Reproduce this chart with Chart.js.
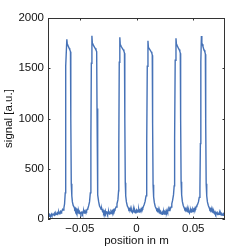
<!DOCTYPE html>
<html lang="en">
<head>
    <meta charset="UTF-8">
    <title>Signal vs position</title>
    <script src="https://cdn.jsdelivr.net/npm/chart.js"></script>
    <style>
        html, body {
            margin: 0;
            padding: 0;
            background: #ffffff;
        }
        #wrap {
            width: 249px;
            height: 249px;
        }
    </style>
</head>
<body>
    <div id="wrap"><canvas id="signalChart" width="249" height="249"></canvas></div>

    <script>
        // position in m
        let positions = [
            -0.0780, -0.0775, -0.0770, -0.0765, -0.0760, -0.0755, -0.0750, -0.0745, -0.0740, -0.0735,
            -0.0730, -0.0725, -0.0720, -0.0715, -0.0710, -0.0705, -0.0700, -0.0695, -0.0690, -0.0685,
            -0.0680, -0.0675, -0.0670, -0.0665, -0.0660, -0.0655, -0.0650, -0.0645, -0.0640, -0.0634, -0.0628,
            // pulse 1
            -0.0626, -0.0622, -0.0614, -0.0610, -0.0606, -0.0600, -0.0594, -0.0588, -0.0582, -0.0579, -0.0575,
            -0.0570, -0.0565, -0.0558, -0.0550, -0.0545, -0.0540, -0.0535, -0.0530, -0.0525, -0.0520,
            -0.0515, -0.0510, -0.0505, -0.0500, -0.0495, -0.0490, -0.0485, -0.0480, -0.0475, -0.0470,
            -0.0465, -0.0460, -0.0455, -0.0450, -0.0445, -0.0440, -0.0435, -0.0430, -0.0422, -0.0414, -0.0407,
            // pulse 2
            -0.0402, -0.0398, -0.0393, -0.0389, -0.0385, -0.0379, -0.0372, -0.0364, -0.0357, -0.0351, -0.0348, -0.0344,
            -0.0340, -0.0334, -0.0326, -0.0318, -0.0312, -0.0306, -0.0300, -0.0295, -0.0290, -0.0285,
            -0.0280, -0.0275, -0.0270, -0.0265, -0.0260, -0.0255, -0.0250, -0.0245, -0.0240, -0.0235,
            -0.0230, -0.0225, -0.0220, -0.0215, -0.0210, -0.0205, -0.0200, -0.0195, -0.0190, -0.0185,
            -0.0180, -0.0172, -0.0164, -0.0158,
            // pulse 3
            -0.0156, -0.0152, -0.0147, -0.0143, -0.0139, -0.0133, -0.0126, -0.0118, -0.0111, -0.0106, -0.0103, -0.0099,
            -0.0095, -0.0089, -0.0081, -0.0074, -0.0068, -0.0062, -0.0056, -0.0050, -0.0045, -0.0040,
            -0.0035, -0.0030, -0.0025, -0.0020, -0.0015, -0.0010, -0.0005, 0.0000, 0.0005, 0.0010,
            0.0015, 0.0020, 0.0025, 0.0030, 0.0035, 0.0040, 0.0045, 0.0050, 0.0055, 0.0060,
            0.0068, 0.0076, 0.0084, 0.0089,
            // pulse 4
            0.0091, 0.0095, 0.0101, 0.0105, 0.0109, 0.0115, 0.0122, 0.0129, 0.0135, 0.0139, 0.0142, 0.0146,
            0.0151, 0.0157, 0.0165, 0.0172, 0.0178, 0.0184, 0.0190, 0.0195, 0.0200, 0.0205,
            0.0210, 0.0215, 0.0220, 0.0225, 0.0230, 0.0235, 0.0240, 0.0245, 0.0250, 0.0255,
            0.0260, 0.0265, 0.0270, 0.0275, 0.0280, 0.0285, 0.0290, 0.0295, 0.0300, 0.0305,
            0.0311, 0.0318, 0.0326, 0.0332,
            // pulse 5
            0.0336, 0.0341, 0.0348, 0.0352, 0.0356, 0.0362, 0.0369, 0.0376, 0.0382, 0.0386, 0.0389, 0.0393,
            0.0398, 0.0404, 0.0412, 0.0419, 0.0425, 0.0431, 0.0437, 0.0442, 0.0447, 0.0452,
            0.0457, 0.0462, 0.0467, 0.0472, 0.0477, 0.0482, 0.0487, 0.0492, 0.0497, 0.0502,
            0.0507, 0.0512, 0.0517, 0.0522, 0.0527, 0.0532, 0.0538, 0.0546, 0.0553, 0.0559,
            // pulse 6
            0.0563, 0.0567, 0.0572, 0.0576, 0.0580, 0.0586, 0.0592, 0.0598, 0.0603, 0.0607, 0.0610, 0.0614,
            0.0619, 0.0625, 0.0633, 0.0640, 0.0646, 0.0652, 0.0658, 0.0663, 0.0668, 0.0673,
            0.0678, 0.0683, 0.0688, 0.0693, 0.0698, 0.0703, 0.0708, 0.0713, 0.0718, 0.0723,
            0.0728, 0.0733, 0.0738, 0.0743, 0.0748, 0.0753, 0.0758, 0.0763, 0.0768, 0.0774, 0.0780
        ];

        // signal [a.u.]
        let signal = [
            30, 38, 26, 42, 35, 30, 48, 36, 40, 52,
            44, 38, 55, 47, 60, 50, 44, 62, 56, 70,
            52, 64, 75, 60, 72, 88, 95, 90, 110, 150, 260,
            // pulse 1
            700, 1520, 1788, 1738, 1730, 1715, 1700, 1685, 1665, 1000, 350,
            230, 170, 135, 118, 100, 108, 82, 95, 70, 86,
            62, 78, 55, 70, 60, 48, 66, 72, 52, 64,
            80, 58, 74, 66, 85, 78, 96, 100, 130, 170, 260,
            // pulse 2
            800, 1550, 1824, 1748, 1740, 1728, 1712, 1698, 1682, 1665, 1100, 380,
            240, 175, 130, 112, 96, 104, 78, 88, 62, 74,
            58, 80, 52, 66, 70, 48, 60, 72, 50, 63,
            56, 74, 62, 80, 68, 88, 76, 96, 92, 108,
            120, 150, 190, 280,
            // pulse 3
            700, 1560, 1808, 1734, 1728, 1714, 1700, 1686, 1670, 1650, 1000, 360,
            230, 170, 130, 115, 96, 102, 84, 92, 72, 88,
            66, 80, 95, 70, 84, 62, 78, 90, 68, 82,
            75, 96, 70, 88, 82, 100, 92, 110, 104, 122,
            145, 175, 230, 320,
            // pulse 4
            750, 1520, 1774, 1706, 1700, 1690, 1678, 1664, 1650, 1630, 950, 340,
            220, 165, 125, 108, 92, 98, 75, 84, 62, 76,
            54, 70, 60, 48, 66, 56, 72, 50, 68, 58,
            80, 66, 90, 72, 86, 98, 84, 110, 104, 120,
            150, 185, 240, 330,
            // pulse 5
            800, 1580, 1798, 1738, 1730, 1716, 1700, 1686, 1668, 1650, 1000, 370,
            240, 175, 135, 115, 98, 104, 82, 90, 74, 92,
            68, 84, 62, 78, 90, 70, 86, 76, 96, 82,
            100, 92, 112, 106, 124, 132, 145, 170, 215, 300,
            // pulse 6
            750, 1560, 1821, 1752, 1738, 1715, 1695, 1678, 1660, 1640, 950, 350,
            230, 170, 135, 114, 96, 102, 80, 90, 70, 82,
            62, 74, 56, 68, 50, 64, 58, 44, 60, 52,
            48, 62, 45, 56, 40, 52, 46, 38, 50, 42, 48
        ];

        let xTickValues = [-0.05, 0, 0.05];
        let xTickLabels = ['\u22120.05', '0', '0.05'];
        let yTickValues = [0, 500, 1000, 1500, 2000];
        let yTickLabels = ['0', '500', '1000', '1500', '2000'];

        let points = positions.map((p, i) => ({ x: p, y: signal[i] }));

        // box round the plot with short inward ticks, like the original figure
        const frameTicks = {
            id: 'frameTicks',
            afterDraw(chart) {
                const ctx = chart.ctx;
                const a = chart.chartArea;
                const xs = chart.scales.x;
                const ys = chart.scales.y;
                const len = 2.5;
                ctx.save();
                ctx.strokeStyle = '#333333';
                ctx.lineWidth = 1;
                ctx.strokeRect(a.left + 0.5, a.top + 0.5, a.right - a.left - 1, a.bottom - a.top - 1);
                ctx.beginPath();
                xTickValues.forEach(v => {
                    let px = Math.round(xs.getPixelForValue(v)) + 0.5;
                    ctx.moveTo(px, a.bottom);
                    ctx.lineTo(px, a.bottom - len);
                    ctx.moveTo(px, a.top);
                    ctx.lineTo(px, a.top + len);
                });
                yTickValues.forEach(v => {
                    let py = Math.round(ys.getPixelForValue(v)) + 0.5;
                    ctx.moveTo(a.left, py);
                    ctx.lineTo(a.left + len, py);
                    ctx.moveTo(a.right, py);
                    ctx.lineTo(a.right - len, py);
                });
                ctx.stroke();
                ctx.restore();
            }
        };

        const font = { family: '"Liberation Sans", Arial, sans-serif', size: 11.5 };

        const ctx = document.getElementById('signalChart').getContext('2d');
        new Chart(ctx, {
            type: 'line',
            data: {
                datasets: [{
                    data: points,
                    borderColor: '#4672b7',
                    borderWidth: 1.4,
                    pointRadius: 0,
                    tension: 0,
                    fill: false
                }]
            },
            options: {
                responsive: false,
                animation: false,
                layout: { padding: { left: 0, right: 24, top: 18, bottom: 0 } },
                plugins: {
                    legend: { display: false },
                    tooltip: { enabled: false }
                },
                scales: {
                    x: {
                        type: 'linear',
                        min: -0.078,
                        max: 0.078,
                        grid: { display: false, drawTicks: false },
                        border: { display: false },
                        afterBuildTicks: axis => {
                            axis.ticks = xTickValues.map(v => ({ value: v }));
                        },
                        afterFit: axis => { axis.height = 30; },
                        ticks: {
                            color: '#111111',
                            font: font,
                            padding: 3,
                            maxRotation: 0,
                            callback: (value) => xTickLabels[xTickValues.indexOf(value)]
                        },
                        title: {
                            display: true,
                            text: 'position in m',
                            color: '#111111',
                            font: font,
                            padding: { top: 0, bottom: 1 }
                        }
                    },
                    y: {
                        min: 0,
                        max: 2000,
                        grid: { display: false, drawTicks: false },
                        border: { display: false },
                        afterBuildTicks: axis => {
                            axis.ticks = yTickValues.map(v => ({ value: v }));
                        },
                        afterFit: axis => { axis.width = 48; },
                        ticks: {
                            color: '#111111',
                            font: font,
                            padding: 4,
                            callback: (value) => yTickLabels[yTickValues.indexOf(value)]
                        },
                        title: {
                            display: true,
                            text: 'signal [a.u.]',
                            color: '#111111',
                            font: font,
                            padding: { top: 2, bottom: 0 }
                        }
                    }
                }
            },
            plugins: [frameTicks]
        });
    </script>
</body>
</html>
